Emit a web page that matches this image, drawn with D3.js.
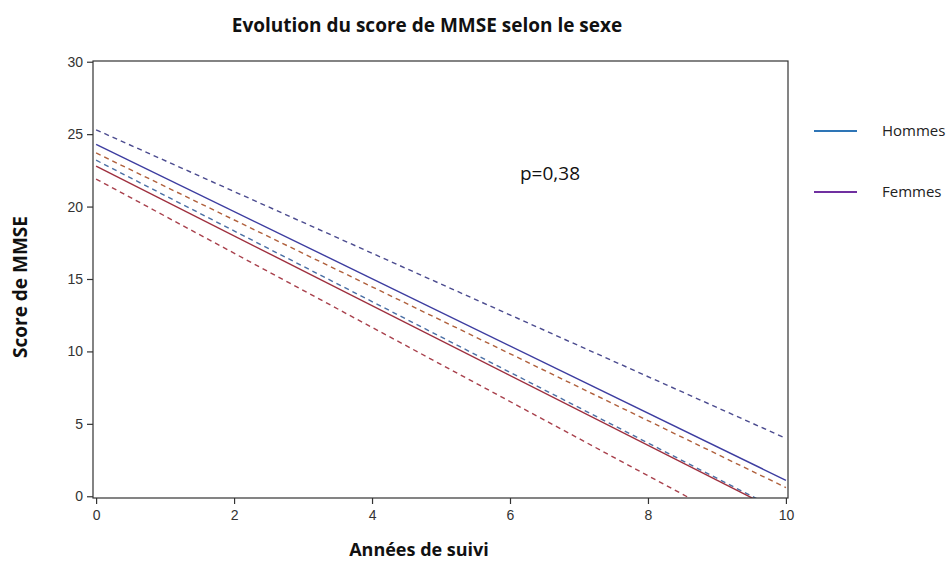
<!DOCTYPE html>
<html><head><meta charset="utf-8">
<script src="https://cdn.jsdelivr.net/npm/d3@7"></script>
<style>
body{margin:0;background:#fff;}
svg{display:block;}
</style></head>
<body><svg id="c" width="947" height="563"></svg>
<script>
const years = [0, 10];
const hommes = [24.3, 1.1];
const hommesHaut = [25.3, 4.0];
const hommesBas = [23.2, -1.2];
const femmes = [22.8, -1.3];
const femmesHaut = [23.7, 0.6];
const femmesBas = [21.9, -3.7];
const xTicks = [0, 2, 4, 6, 8, 10];
const yTicks = [0, 5, 10, 15, 20, 25, 30];
const legendLabels = ["Hommes", "Femmes"];

const svg = d3.select("#c");
const L = 93, R = 788, T = 61, B = 498;
const x = d3.scaleLinear().domain([-0.045, 10.03]).range([L, R]);
const y = d3.scaleLinear().domain([-0.12, 30.05]).range([B, T]);

svg.append("defs").append("clipPath").attr("id","clip")
  .append("rect").attr("x",L).attr("y",T).attr("width",R-L).attr("height",B-T);

const series = [
  {v: hommesHaut, color:"#4b4b8f", dash:"5,4", w:1.4},
  {v: femmesHaut, color:"#b0603c", dash:"5,4", w:1.4},
  {v: hommesBas, color:"#4a6fa5", dash:"5,4", w:1.4},
  {v: femmesBas, color:"#a8404c", dash:"5,4", w:1.4},
  {v: hommes, color:"#3d3da0", dash:null, w:1.4},
  {v: femmes, color:"#9e2f3e", dash:null, w:1.4}
];
const line = d3.line().x((d,i)=>x(years[i])).y(d=>y(d));
const g = svg.append("g").attr("clip-path","url(#clip)");
series.forEach(s=>{
  g.append("path").datum(s.v).attr("d", line).attr("fill","none")
   .attr("stroke", s.color).attr("stroke-width", s.w)
   .attr("stroke-dasharray", s.dash);
});

// frame
svg.append("rect").attr("x",L).attr("y",T).attr("width",R-L).attr("height",B-T)
  .attr("fill","none").attr("stroke","#333").attr("stroke-width",1.2);

const ax = svg.append("g").attr("transform",`translate(0,${B})`)
  .call(d3.axisBottom(x).tickValues(xTicks).tickSize(6).tickPadding(6).tickFormat(d3.format("d")));
const ay = svg.append("g").attr("transform",`translate(${L},0)`)
  .call(d3.axisLeft(y).tickValues(yTicks).tickSize(6).tickPadding(4).tickFormat(d3.format("d")));
[ax, ay].forEach(a=>{
  a.select(".domain").remove();
  a.selectAll("line").attr("stroke","#333").attr("stroke-width",1.2);
  a.selectAll("text").attr("font-family","Liberation Sans, Arial, sans-serif")
   .attr("font-size",14).attr("fill","#333");
});

const font = "Open Sans, sans-serif";
svg.append("text").attr("x",427).attr("y",32).attr("text-anchor","middle")
  .attr("font-family",font).attr("font-weight","bold").attr("font-size",19)
  .attr("fill","#111").text("Evolution du score de MMSE selon le sexe");
svg.append("text").attr("x",419).attr("y",556).attr("text-anchor","middle")
  .attr("font-family",font).attr("font-weight","bold").attr("font-size",18)
  .attr("fill","#111").text("Années de suivi");
svg.append("text").attr("transform","translate(27,287) rotate(-90)").attr("text-anchor","middle")
  .attr("font-family",font).attr("font-weight","bold").attr("font-size",19)
  .attr("fill","#111").text("Score  de MMSE");
svg.append("text").attr("x",550).attr("y",180).attr("text-anchor","middle")
  .attr("font-family",font).attr("font-size",19).attr("fill","#111").text("p=0,38");

const legColors = ["#2e75b6", "#7030a0"];
const legY = [131, 192];
legendLabels.forEach((lab,i)=>{
  svg.append("line").attr("x1",814).attr("x2",857).attr("y1",legY[i]).attr("y2",legY[i])
    .attr("stroke",legColors[i]).attr("stroke-width",1.8);
  svg.append("text").attr("x",882).attr("y",legY[i]+5).attr("font-family",font)
    .attr("font-size",15).attr("fill","#222").text(lab);
});
</script></body></html>
